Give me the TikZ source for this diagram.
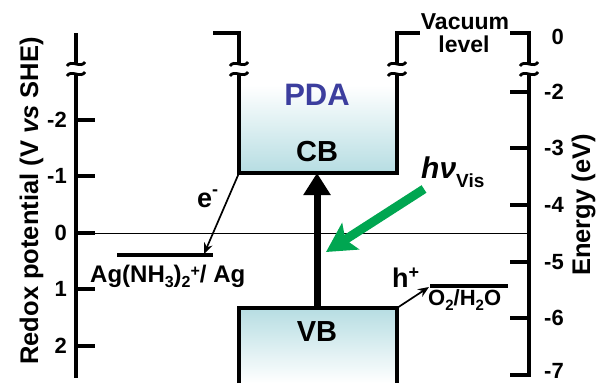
\documentclass[tikz,border=0pt]{standalone}
\usepackage{fontspec}
\setmainfont{Liberation Sans}
\usetikzlibrary{arrows.meta}
\definecolor{cbteal}{RGB}{182,221,226}
\definecolor{pdablue}{RGB}{60,62,158}
\definecolor{hvgreen}{RGB}{0,166,81}
\newcommand\fsz[1]{\fontsize{#1}{#1}\selectfont\bfseries}
\newcommand\subx[2][16]{\raisebox{-5pt}{\fsz{#1}#2}}
\newcommand\supx[2][16]{\raisebox{6pt}{\fsz{#1}#2}}
\begin{document}
\begin{tikzpicture}[x=1pt,y=-1pt,
  axisline/.style={line width=4pt, line join=miter, line cap=butt},
  tickline/.style={line width=4pt},
  ticklab/.style={anchor=east, inner sep=0pt, font=\fsz{22}},
  levelline/.style={line width=4pt},
  thinline/.style={line width=0.8pt},
  smallarrow/.style={line width=1.7pt, -{Stealth[length=11pt,width=9pt]}},
  txt/.style={inner sep=0pt},
  brk/.pic={
    \fill[white] (-9,-3) .. controls (-5,-10) and (5,0) .. (9,-7) -- (9,3) .. controls (5,10) and (-5,0) .. (-9,7) -- cycle;
    \draw[line width=2.8pt] (-9,-3) .. controls (-5,-10) and (5,0) .. (9,-7);
    \draw[line width=2.8pt] (-9,7) .. controls (-5,0) and (5,10) .. (9,3);
  }]
\useasboundingbox (0,0) rectangle (601,383);

% key coordinates
\coordinate (LTop) at (76,33);
\coordinate (LBot) at (76,378);
\coordinate (RTopT) at (510,33);
\coordinate (RTop) at (529,33);
\coordinate (RBot) at (529,375);
\coordinate (RBotT) at (510,375);
\coordinate (PLa) at (213,33);
\coordinate (PLb) at (239,33);
\coordinate (CBl) at (239,173);
\coordinate (CBr) at (397,173);
\coordinate (PRb) at (397,33);
\coordinate (PRa) at (420,33);
\coordinate (VBlb) at (239,383);
\coordinate (VBl) at (239,308);
\coordinate (VBr) at (397,308);
\coordinate (VBrb) at (397,383);
\coordinate (Z0) at (76,233);
\coordinate (Z1) at (529,233);
\coordinate (AgA) at (117,255);
\coordinate (AgB) at (213,255);
\coordinate (AgTip) at (204,254);
\coordinate (OA) at (430,286);
\coordinate (OB) at (508,286);
\coordinate (OTip) at (429,287);
\coordinate (ArB) at (317,308);
\coordinate (ArT) at (317,173);
\coordinate (GrS) at (424,189);
\coordinate (GrT) at (326,252);

% shadings
\shade[top color=white, bottom color=cbteal] (239,85) rectangle (397,173);
\shade[top color=cbteal, bottom color=white] (239,308) rectangle (397,383);

% zero line
\draw[thinline] (Z0) -- (Z1);

% left axis
\draw[axisline] (LTop) -- (LBot);
\foreach \v/\y/\n in {-2/120/la,-1/176/lb,0/233/lc,1/289/ld,2/346/le}{
  \coordinate (\n a) at (76,\y);
  \coordinate (\n b) at (95,\y);
  \draw[tickline] (\n a) -- (\n b);
  \node[ticklab] (\n) at (67,\y) {\v};
}
% right axis
\draw[axisline] (RTopT) -- (RTop) -- (RBot) -- (RBotT);
\foreach \y/\n in {92/ra,148/rb,205/rc,262/rd,318/re}{
  \coordinate (\n a) at (529,\y);
  \coordinate (\n b) at (510,\y);
  \draw[tickline] (\n a) -- (\n b);
}
\foreach \v/\y/\n in {0/37/r0,-2/92/r2,-3/148/r3,-4/205/r4,-5/262/r5,-6/318/r6,-7/371/r7}{
  \node[ticklab] (\n) at (564,\y) {\v};
}

% PDA boxes
\draw[axisline] (PLa) -- (PLb) -- (CBl) -- (CBr) -- (PRb) -- (PRa);
\draw[axisline] (VBlb) -- (VBl) -- (VBr) -- (VBrb);

% breaks
\pic (bk1) at (76,69) {brk};
\pic (bk2) at (239,69) {brk};
\pic (bk3) at (397,69) {brk};
\pic (bk4) at (529,69) {brk};

% levels
\draw[levelline] (AgA) -- (AgB);
\draw[line width=3.5pt] (OA) -- (OB);

% arrows
\draw[smallarrow] (CBl) -- (AgTip);
\draw[smallarrow] (VBr) -- (OTip);
\draw[line width=7pt, -{Triangle[length=22pt,width=26pt]}] (ArB) -- (ArT);
\draw[hvgreen, line width=9pt, -{Stealth[length=29pt,width=31pt,inset=6pt]}] (GrS) -- (GrT);

% texts
\node[txt, font=\fsz{31}, text=pdablue] (pda) at (317,95) {PDA};
\node[txt, font=\fsz{29}] (cb) at (317,151.5) {CB};
\node[txt, font=\fsz{29}] (vb) at (317,331.5) {VB};
\node[txt, anchor=base, font=\fsz{23}] (vac1) at (465,29) {Vacuum};
\node[txt, anchor=base, font=\fsz{23}] (vac2) at (464,52) {level};
\node[txt, rotate=90, anchor=base, font=\fsz{25.5}] (ylab) at (38,201) {Redox potential (V \textit{vs} SHE)};
\node[txt, rotate=90, anchor=base, font=\fsz{25.5}] (elab) at (590,205) {Energy (eV)};
\node[txt, anchor=base west, font=\fsz{27}] (elabel) at (197,207) {e\raisebox{12pt}{\fsz{18}-}};
\node[txt, anchor=base west, font=\fsz{27}] (hlabel) at (392,287) {h\raisebox{9pt}{\fsz{18}+}};
\node[txt, anchor=base west, font=\fsz{30}] (hv) at (421,178) {\textit{hν}\raisebox{-9pt}{\fsz{19}Vis}};
\node[txt, anchor=base west, font=\fsz{24}] (aglab) at (90,282) {Ag(NH\subx{3})\subx{2}\supx{+}/ Ag};
\node[txt, anchor=base west, font=\fsz{22}] (o2lab) at (428,305) {O\subx[15]{2}/H\subx[15]{2}O};
\end{tikzpicture}
\end{document}
